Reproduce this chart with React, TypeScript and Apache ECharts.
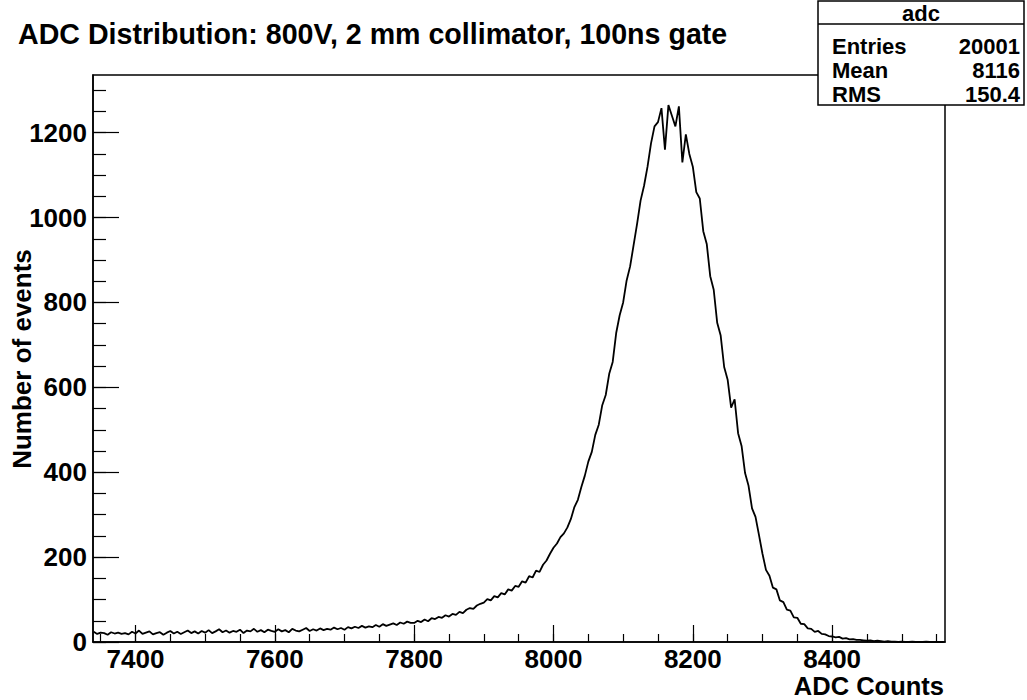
import React, { useEffect, useRef } from "react";
import * as echarts from "echarts";

const TITLE = "ADC Distribution: 800V, 2 mm collimator, 100ns gate";
const X_NAME = "ADC Counts";
const Y_NAME = "Number of events";
const STATS_NAME = "adc";
const STATS_LABELS = ["Entries", "Mean", "RMS"];
const STATS_VALUES = ["20001", "8116", "150.4"];

const X_MIN = 7339;
const X_MAX = 8562;
const Y_MIN = 0;
const Y_MAX = 1336;

const X_MAJOR = [7400, 7600, 7800, 8000, 8200, 8400];
const X_MINOR = [7350, 7400, 7450, 7500, 7550, 7600, 7650, 7700, 7750, 7800, 7850, 7900, 7950, 8000, 8050, 8100, 8150, 8200, 8250, 8300, 8350, 8400, 8450, 8500, 8550];
const Y_MAJOR = [0, 200, 400, 600, 800, 1000, 1200];
const Y_MINOR = [0, 50, 100, 150, 200, 250, 300, 350, 400, 450, 500, 550, 600, 650, 700, 750, 800, 850, 900, 950, 1000, 1050, 1100, 1150, 1200, 1250, 1300];

// bin centres: BIN_START + i * BIN_WIDTH
const BIN_START = 7340;
const BIN_WIDTH = 5;
const COUNTS = [
  // 7340 - 7495
  24, 19, 22, 21, 17, 23, 20, 22, 19, 21, 18, 24, 20, 27, 19, 22, 25, 18, 21, 23,
  17, 22, 26, 20, 24, 19, 23, 27, 21, 25, 20, 26,
  // 7500 - 7595
  22, 28, 21, 25, 30, 23, 27, 22, 26, 24, 29, 21, 27, 25, 31, 24, 28, 23, 29, 26,
  // 7600 - 7695
  24, 30, 25, 28, 23, 31, 27, 25, 29, 33, 26, 30, 27, 32, 28, 31, 29, 34, 30, 33,
  // 7700 - 7795
  29, 35, 32, 36, 33, 38, 34, 37, 35, 40, 36, 42, 38, 41, 44, 40, 46, 43, 48, 45,
  // 7800 - 7895
  45, 50, 47, 53, 49, 56, 54, 59, 57, 63, 60, 66, 64, 71, 68, 76, 80, 78, 86, 90,
  // 7900 - 7995
  93, 101, 98, 108, 105, 115, 112, 124, 121, 132, 130, 143, 140, 155, 152, 168, 165, 182, 192, 208,
  // 8000 - 8095
  222, 232, 247, 256, 270, 290, 318, 335, 365, 392, 425, 448, 488, 512, 558, 582, 632, 660, 728, 770,
  // 8100 - 8195
  800, 852, 885, 935, 985, 1040, 1075, 1120, 1175, 1215, 1225, 1258, 1160, 1265, 1240, 1215, 1262, 1130, 1196, 1150,
  // 8200 - 8295
  1120, 1060, 1045, 968, 938, 862, 830, 752, 722, 648, 618, 552, 572, 492, 462, 398, 368, 315, 295, 252,
  // 8300 - 8395
  208, 170, 156, 128, 124, 98, 94, 76, 74, 58, 57, 43, 42, 32, 31, 24, 26, 19, 18, 14,
  // 8400 - 8495
  13, 11, 12, 8, 9, 6, 7, 5, 5, 4, 3, 4, 2, 3, 2, 1, 2, 1, 1, 0,
  // 8500 - 8560
  1, 0, 0, 1, 0, 0, 0, 1, 0, 0, 0, 0, 0,
];

const FONT = "'Liberation Sans', Arial, Helvetica, sans-serif";

export default function App() {
  const ref = useRef<HTMLDivElement>(null);

  useEffect(() => {
    if (!ref.current) return;
    const chart = echarts.init(ref.current, undefined, { renderer: "svg" });

    const data = COUNTS.map((c, i) => [BIN_START + i * BIN_WIDTH, c]);

    const labelStyle = {
      color: "#000",
      fontFamily: FONT,
      fontWeight: "bold" as const,
      fontSize: 26,
      formatter: (v: number) => String(v),
    };

    const boxX = 818;
    const boxY = 1;
    const boxW = 206;
    const boxH = 104;
    const headerH = 23;
    const rowYs = [46, 70, 94];

    const statsStyle = {
      fill: "#000",
      fontFamily: FONT,
      fontWeight: "bold",
      fontSize: 22,
      lineHeight: 22,
      verticalAlign: "middle",
    };

    const statsTexts: any[] = [];
    STATS_LABELS.forEach((lab, i) => {
      statsTexts.push({
        type: "text",
        x: boxX + 14,
        y: rowYs[i],
        z: 102,
        style: { ...statsStyle, text: lab, align: "left" },
      });
      statsTexts.push({
        type: "text",
        x: boxX + boxW - 4,
        y: rowYs[i],
        z: 102,
        style: { ...statsStyle, text: STATS_VALUES[i], align: "right" },
      });
    });

    chart.setOption({
      animation: false,
      backgroundColor: "#fff",
      grid: {
        left: 93,
        right: 1027 - 945,
        top: 75,
        bottom: 700 - 642,
        show: true,
        borderColor: "#000",
        borderWidth: 1.5,
        containLabel: false,
        outerBoundsMode: "none",
      },
      xAxis: [
        {
          type: "value",
          min: X_MIN,
          max: X_MAX,
          position: "bottom",
          axisLine: { show: true, lineStyle: { color: "#000", width: 1.5 } },
          axisTick: { show: true, inside: true, length: 17, customValues: X_MAJOR, lineStyle: { color: "#000", width: 1.2 } },
          axisLabel: { ...labelStyle, customValues: X_MAJOR, margin: 5, lineHeight: 24 },
          splitLine: { show: false },
        },
        {
          type: "value",
          min: X_MIN,
          max: X_MAX,
          position: "bottom",
          axisLine: { show: false },
          axisTick: { show: true, inside: true, length: 8, customValues: X_MINOR, lineStyle: { color: "#000", width: 1.2 } },
          axisLabel: { show: false },
          splitLine: { show: false },
        },
      ],
      yAxis: [
        {
          type: "value",
          min: Y_MIN,
          max: Y_MAX,
          position: "left",
          axisLine: { show: true, lineStyle: { color: "#000", width: 1.5 } },
          axisTick: { show: true, inside: true, length: 26, customValues: Y_MAJOR, lineStyle: { color: "#000", width: 1.2 } },
          axisLabel: { ...labelStyle, customValues: Y_MAJOR, margin: 6 },
          splitLine: { show: false },
        },
        {
          type: "value",
          min: Y_MIN,
          max: Y_MAX,
          position: "left",
          axisLine: { show: false },
          axisTick: { show: true, inside: true, length: 13, customValues: Y_MINOR, lineStyle: { color: "#000", width: 1.2 } },
          axisLabel: { show: false },
          splitLine: { show: false },
        },
      ],
      series: [
        {
          type: "line",
          xAxisIndex: 0,
          yAxisIndex: 0,
          data,
          showSymbol: false,
          symbol: "none",
          clip: true,
          lineStyle: { color: "#000", width: 1.8 },
        },
      ],
      graphic: [
        {
          type: "text",
          x: 18,
          y: 34,
          z: 50,
          style: { text: TITLE, fill: "#000", fontFamily: FONT, fontWeight: "bold", fontSize: 28.6, align: "left", verticalAlign: "middle" },
        },
        {
          type: "text",
          x: 22,
          y: 359,
          rotation: Math.PI / 2,
          z: 50,
          style: { text: Y_NAME, fill: "#000", fontFamily: FONT, fontWeight: "bold", fontSize: 26, align: "center", verticalAlign: "middle" },
        },
        {
          type: "text",
          x: 944,
          y: 686,
          z: 50,
          style: { text: X_NAME, fill: "#000", fontFamily: FONT, fontWeight: "bold", fontSize: 25.5, lineHeight: 24, align: "right", verticalAlign: "middle" },
        },
        {
          type: "rect",
          z: 100,
          shape: { x: boxX, y: boxY, width: boxW, height: boxH },
          style: { fill: "#fff", stroke: "#000", lineWidth: 1.5 },
        },
        {
          type: "line",
          z: 101,
          shape: { x1: boxX, y1: boxY + headerH, x2: boxX + boxW, y2: boxY + headerH },
          style: { stroke: "#000", lineWidth: 1.5 },
        },
        {
          type: "text",
          x: boxX + boxW / 2,
          y: boxY + headerH / 2 + 1,
          z: 102,
          style: { ...statsStyle, text: STATS_NAME, align: "center" },
        },
        ...statsTexts,
      ],
    });

    return () => chart.dispose();
  }, []);

  return (
    <div
      ref={ref}
      style={{ position: "absolute", left: 0, top: 0, width: 1027, height: 700 }}
    />
  );
}
